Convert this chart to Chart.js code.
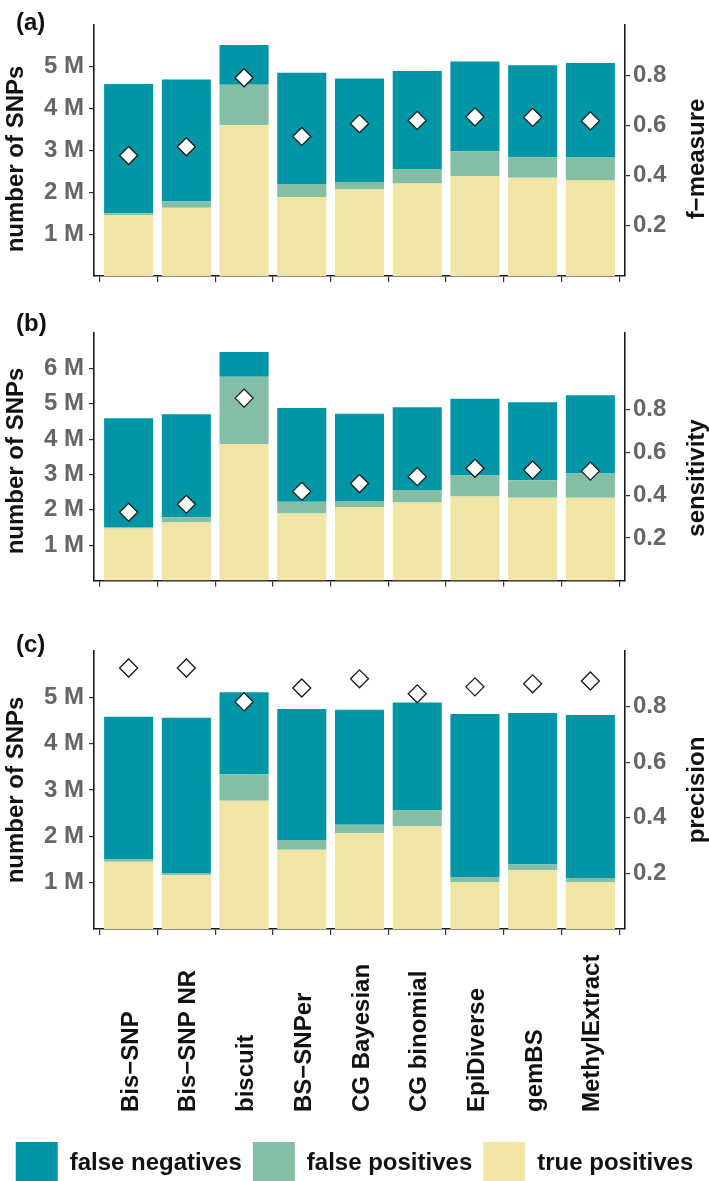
<!DOCTYPE html>
<html>
<head>
<meta charset="utf-8">
<script src="https://cdn.jsdelivr.net/npm/chart.js@4.4.1/dist/chart.umd.min.js"></script>
<style>
  body { margin: 0; background: #fff; overflow: hidden; width: 709px; height: 1181px; position: relative; }
  .panel { position: absolute; left: 0; width: 709px; }
</style>
</head>
<body>
<div class="panel" style="top:0;height:300px"><canvas id="chartA"></canvas></div>
<div class="panel" style="top:300px;height:300px"><canvas id="chartB"></canvas></div>
<div class="panel" style="top:600px;height:594px"><canvas id="chartC"></canvas></div>
<script>
const methods = ["Bis−SNP", "Bis−SNP NR", "biscuit", "BS−SNPer", "CG Bayesian", "CG binomial", "EpiDiverse", "gemBS", "MethylExtract"];

// number of SNPs, in millions
const truePosA = [1.46, 1.63, 3.61, 1.89, 2.07, 2.21, 2.39, 2.35, 2.28];
const falsePosA = [0.04, 0.15, 0.96, 0.31, 0.18, 0.35, 0.59, 0.49, 0.55];
const falseNegA = [3.09, 2.92, 0.95, 2.66, 2.47, 2.34, 2.15, 2.20, 2.26];
const fMeasure = [0.48, 0.515, 0.79, 0.556, 0.607, 0.62, 0.634, 0.632, 0.618];

const truePosB = [1.47, 1.64, 3.86, 1.90, 2.08, 2.21, 2.38, 2.34, 2.34];
const falsePosB = [0.03, 0.15, 1.90, 0.33, 0.17, 0.35, 0.59, 0.50, 0.69];
const falseNegB = [3.09, 2.91, 0.70, 2.65, 2.47, 2.34, 2.17, 2.20, 2.21];
const sensitivity = [0.32, 0.358, 0.855, 0.418, 0.455, 0.487, 0.526, 0.518, 0.513];

const truePosC = [1.45, 1.16, 2.77, 1.71, 2.07, 2.21, 1.01, 1.27, 1.01];
const falsePosC = [0.05, 0.04, 0.57, 0.21, 0.18, 0.35, 0.11, 0.12, 0.09];
const falseNegC = [3.08, 3.36, 1.77, 2.83, 2.48, 2.33, 3.52, 3.27, 3.52];
const precision = [0.939, 0.939, 0.817, 0.867, 0.90, 0.846, 0.871, 0.882, 0.892];

const ticksA = [1, 2, 3, 4, 5];
const ticksB = [1, 2, 3, 4, 5, 6];
const ticksC = [1, 2, 3, 4, 5];
const scoreTicks = [0.2, 0.4, 0.6, 0.8];

const colorFN = "#0096a6";
const colorFP = "#84bfa5";
const colorTP = "#f0e4a7";
const fontFamily = '"Liberation Sans", Arial, Helvetica, sans-serif';

Chart.defaults.font.family = fontFamily;

// panel letter and the two axis titles (both read bottom to top)
function labelPlugin(letter, letterY, leftTitle, leftMid, rightTitle, rightMid) {
  return {
    id: "panelText",
    afterDraw(chart) {
      const ctx = chart.ctx;
      ctx.save();
      ctx.font = "bold 24px " + fontFamily;
      ctx.fillStyle = "#111";
      ctx.textBaseline = "alphabetic";
      ctx.fillText(letter, 16, letterY);
      ctx.textAlign = "center";
      [[leftTitle, 23, leftMid], [rightTitle, 704, rightMid]].forEach(t => {
        ctx.save();
        ctx.translate(t[1], t[2]);
        ctx.rotate(-Math.PI / 2);
        ctx.fillText(t[0], 0, 0);
        ctx.restore();
      });
      ctx.restore();
    }
  };
}

// names under the bottom panel, all starting from the same line
const methodLabels = {
  id: "methodLabels",
  afterDraw(chart) {
    const ctx = chart.ctx;
    const xs = chart.scales.x;
    const base = chart.chartArea.bottom + 183;
    ctx.save();
    ctx.font = "bold 24px " + fontFamily;
    ctx.fillStyle = "#111";
    ctx.textAlign = "left";
    ctx.textBaseline = "alphabetic";
    methods.forEach((m, i) => {
      ctx.save();
      ctx.translate(xs.getPixelForValue(i), base);
      ctx.rotate(-Math.PI / 2);
      ctx.fillText(m, 0, 9);
      ctx.restore();
    });
    ctx.restore();
  }
};

function barSet(label, vals, color) {
  return {
    type: "bar",
    label: label,
    data: vals.map((v, i) => ({ x: i, y: v })),
    backgroundColor: color,
    borderColor: color,
    borderWidth: 0,
    barPercentage: 0.85,
    categoryPercentage: 1,
    yAxisID: "y"
  };
}

function makePanel(id, tp, fp, fn, score, cfg) {
  const tickFont = { family: fontFamily, size: 24, weight: "bold" };
  const plugins = [labelPlugin(cfg.letter, cfg.letterY, "number of SNPs", cfg.leftMid, cfg.scoreLabel, cfg.rightMid)];
  if (cfg.labels) plugins.push(methodLabels);

  new Chart(document.getElementById(id), {
    data: {
      datasets: [
        {
          type: "line",
          label: cfg.scoreLabel,
          data: score.map((v, i) => ({ x: i, y: v })),
          yAxisID: "y2",
          showLine: false,
          pointStyle: "rectRot",
          pointRadius: 9,
          pointHoverRadius: 9,
          pointBackgroundColor: "#fff",
          pointBorderColor: "#1a1a1a",
          pointBorderWidth: 1.3,
          order: -1
        },
        barSet("true positives", tp, colorTP),
        barSet("false positives", fp, colorFP),
        barSet("false negatives", fn, colorFN)
      ]
    },
    plugins: plugins,
    options: {
      responsive: true,
      maintainAspectRatio: false,
      animation: false,
      devicePixelRatio: 1,
      layout: { padding: { top: cfg.top, left: 0, right: 0, bottom: 0 } },
      plugins: {
        tooltip: { enabled: false },
        legend: {
          display: !!cfg.legend,
          position: "bottom",
          reverse: true,
          labels: {
            filter: item => item.datasetIndex !== 0,
            boxWidth: 42,
            boxHeight: 42,
            padding: 11,
            color: "#111",
            font: tickFont
          }
        }
      },
      scales: {
        x: {
          type: "linear",
          min: -0.6,
          max: 8.6,
          stacked: true,
          offset: false,
          afterBuildTicks: s => { s.ticks = methods.map((m, i) => ({ value: i })); },
          ticks: { display: false },
          grid: { drawOnChartArea: false, tickLength: 6, color: "#333", lineWidth: 1.2 },
          border: { display: true, color: "#1a1a1a", width: 1.6 },
          afterFit: s => { s.height = cfg.axisH; }
        },
        y: {
          type: "linear",
          position: "left",
          stacked: true,
          min: 0,
          max: cfg.yMax,
          afterBuildTicks: s => { s.ticks = cfg.yTicks.map(v => ({ value: v })); },
          ticks: { callback: v => v + " M", color: "#666", font: tickFont, padding: 5 },
          grid: { drawOnChartArea: false, tickLength: 5, color: "#333", lineWidth: 1.2 },
          border: { display: true, color: "#1a1a1a", width: 1.6 },
          afterFit: s => { s.width = 94; }
        },
        y2: {
          type: "linear",
          position: "right",
          min: 0,
          max: cfg.y2Max,
          afterBuildTicks: s => { s.ticks = scoreTicks.map(v => ({ value: v })); },
          ticks: { callback: v => v.toFixed(1), color: "#666", font: tickFont, padding: 3 },
          grid: { drawOnChartArea: false, tickLength: 5, color: "#333", lineWidth: 1.2 },
          border: { display: true, color: "#1a1a1a", width: 1.6 },
          afterFit: s => { s.width = 84; }
        }
      }
    }
  });
}

makePanel("chartA", truePosA, falsePosA, falseNegA, fMeasure,
  { letter: "(a)", letterY: 30, leftMid: 159, rightMid: 159, top: 25, axisH: 24,
    yMax: 6, yTicks: ticksA, y2Max: 1, scoreLabel: "f−measure" });
makePanel("chartB", truePosB, falsePosB, falseNegB, sensitivity,
  { letter: "(b)", letterY: 31, leftMid: 161, rightMid: 178, top: 33, axisH: 16,
    yMax: 7, yTicks: ticksB, y2Max: 1.16, scoreLabel: "sensitivity" });
makePanel("chartC", truePosC, falsePosC, falseNegC, precision,
  { letter: "(c)", letterY: 52, leftMid: 190, rightMid: 190, top: 51, axisH: 202,
    yMax: 6, yTicks: ticksC, y2Max: 1, scoreLabel: "precision", labels: true, legend: true });
</script>
</body>
</html>
